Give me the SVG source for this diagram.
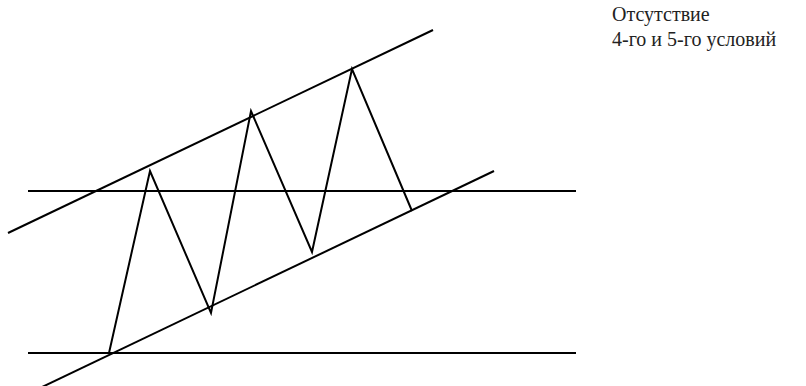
<svg xmlns="http://www.w3.org/2000/svg" width="806" height="386" viewBox="0 0 806 386">
<style>
.ln{stroke:#000;stroke-width:2;fill:none;stroke-linejoin:miter}
.t{font-family:"Liberation Serif","Times New Roman",serif;font-size:20px;fill:#222}
</style>
<rect width="806" height="386" fill="#fff"/>
<g id="connectors">
<line class="ln" x1="28" y1="191" x2="576" y2="191"/>
<line class="ln" x1="28" y1="353" x2="576" y2="353"/>
<line class="ln" x1="8" y1="233" x2="433" y2="30"/>
<line class="ln" x1="40" y1="388" x2="494" y2="171"/>
<polyline class="ln" points="109,353 150,171 211,313 251,111 312,252 352,69 412,211"/>
</g>
<g id="label">
<text class="t" x="612" y="21">Отсутствие</text>
<text class="t" x="612" y="46">4-го и 5-го условий</text>
</g>
</svg>
